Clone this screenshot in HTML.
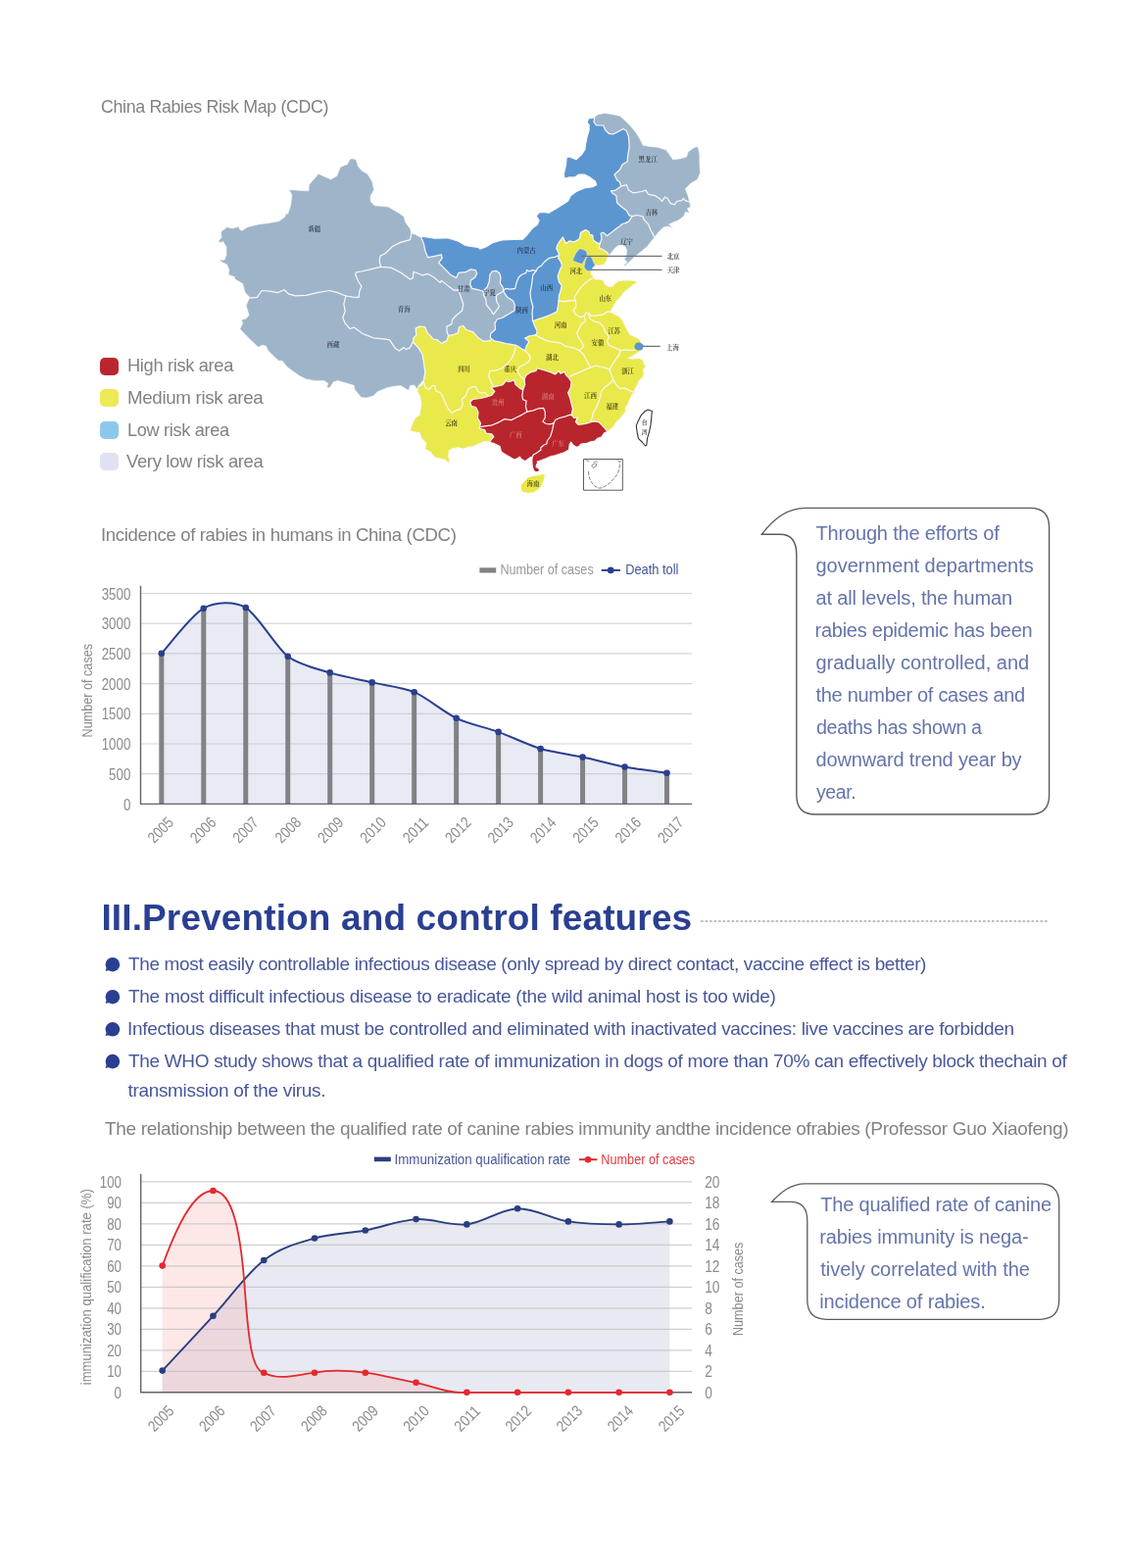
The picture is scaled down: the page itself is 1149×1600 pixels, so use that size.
<!DOCTYPE html>
<html lang="en">
<head>
<meta charset="utf-8">
<title>Rabies prevention and control features</title>
<style>
html,body{margin:0;padding:0;background:#fff}
body{width:1149px;height:1600px;position:relative;overflow:hidden;font-family:"Liberation Sans", "Noto Sans CJK SC", sans-serif;-webkit-font-smoothing:antialiased}
.abs{position:absolute;left:0;top:0;display:block}
.t{position:absolute;white-space:nowrap;margin:0;padding:0;line-height:1;font-weight:400;transform-origin:0 0}
h1.t,h2.t{font-weight:400}
ul,li,p{margin:0;padding:0;list-style:none}
.sw{position:absolute;left:102px;width:18.6px;height:18px;border-radius:5px}
</style>
</head>
<body>
<section>
<h2 class="t" style="left:102.8px;top:99.12px;font-size:19px;color:#828284;letter-spacing:-0.35px;transform:scaleX(0.9356)">China Rabies Risk Map (CDC)</h2>
<svg class="abs" width="520" height="410" viewBox="210 105 520 410" style="left:210px;top:105px" font-family="Liberation Serif, Noto Serif CJK SC, serif" font-weight="600" font-size="6.4" text-anchor="middle" stroke-linejoin="round" stroke-linecap="round">
<path d="M357.1,162.5 359.5,161.8 363.3,162.9 365.4,169.7 369.6,174.6 375,177.4 380.2,186.2 381.5,194 378.1,200 378.1,205.6 382.3,209.7 396.2,211.1 406,216.7 412.2,220.9 413.6,226.5 418.5,233.4 419.9,238.3 423.4,239 428.2,241.8 430.3,241.1 445,250 470,262 495,262 520,290 530,315 520,345 500,352 470,350 445,355 440,380 432,392 425.5,397 422.7,392.9 418.5,393.6 417.1,398.4 408.7,393.6 401.8,394.3 394.8,395.7 385.1,399.8 380.9,404 373.9,406.1 368.4,405.4 365.6,401.9 362.1,397.7 361.2,393.3 354.3,391.2 344.5,388.4 340.3,389.8 336.2,396 333.4,395.3 334.8,391.2 330.6,388.4 320.8,388.4 312.5,387 305.5,383.5 298.6,378.6 293,374.5 288.1,368.2 284.6,368.2 280.5,364.7 273.5,357.7 271.4,352.9 267.2,352.2 263.7,354.3 256.8,348 249.8,341 244.9,335.5 247.7,329.9 246.3,326.4 251.2,325 254,321.5 251.2,311.8 254.7,303.4 249.8,297.9 247.7,289.5 239.4,284.6 239.4,282.5 233.1,280.4 233.8,275.6 231.7,270 225.4,267 224.1,265.2 228.9,265.2 231,260.3 231,251.9 227.5,246.4 224.1,247.7 223.1,245.7 226.1,242.2 225.4,236.6 231.7,231.7 237.3,233.1 240.8,232.1 243.6,231.3 244.9,234.5 247,235.2 252.6,231.7 263.7,228.9 274.9,227.5 284.6,225.7 290.9,221.3 291.6,217.8 293.7,218.5 296.5,210.1 297.9,199 295.1,193.4 306.9,194.5 315,194.8 315.3,188.6 325,177.4 337.6,183 343.8,179.5 347.3,170.4 354.3,167.7Z" fill="#9eb5c9" stroke="#fff" stroke-width=".5"/>
<path d="M606.7,119.6 610.1,116.8 617.1,115.4 625.5,116.8 632.4,118.2 638,123.1 643.6,128.7 649.1,135.6 653.3,142.6 656.1,148.2 663.1,149.6 671.4,150.3 679.8,153.1 683.3,157.9 686.7,162.8 693.7,162.1 700.7,160 702.1,155.1 707.6,151 711.8,149.3 713.2,153.7 713.9,157.9 713.9,167.7 714.6,176 711.8,183 704.8,187.2 699.3,192.7 702.1,199.7 703.5,205.3 704.8,210.8 701.4,212.9 703.5,217.1 699.3,216.4 697.9,220.6 692.3,224.8 685.3,227.5 682.6,229 687,232.4 681.2,231 677,232 672.8,236 667.2,242.9 663.6,247.5 660,252 655.7,255.5 651.4,258.9 647,262.4 643.6,265.9 640.9,268.5 638.3,271.1 635.7,271.6 640.1,267.6 638.3,265.5 636.6,265.9 637.9,263.3 639.2,259.8 639.6,255.5 638.3,252 634.8,249.8 630.5,250.7 627,253.7 624.4,257.2 620.9,260.7 612,256 607,244 612,234 628,226 636,216 624,200 620,190 624,178 634,165 636,142 625,141 612,134 604,125Z" fill="#9eb5c9" stroke="#fff" stroke-width=".5"/>
<path d="M612.2,248.5 611.3,252.9 615.7,255 620.1,258.1 620.9,260.7 620.1,263.3 618.3,267.6 615.7,270.3 611.3,271.1 607.4,270.7 605.3,272.4 603.5,275.9 603.1,279 605.3,281.6 606.1,282.6 607.4,285 612.2,285 615.7,285.9 617,289.4 620.9,292.4 625.3,292 627,289.4 630.5,286.8 635.7,285.9 642.7,285.9 648.8,286.4 649.6,288.5 646.2,291.1 642.7,293.8 638.3,297.2 635.7,299.9 633.1,303.3 629.6,306.9 626.9,311.1 624.8,315.3 622.7,318.1 625.5,319.5 631,322.2 635.2,326.4 638,332 640.8,337.6 642.7,340.9 648.2,343.7 652.4,345.8 654.5,349.2 656.6,353.4 655.2,356.9 652.4,359 648.2,361.8 644.1,364.6 641.3,365.3 645.5,366 652.4,365.3 656.6,367.4 657.3,371.5 659.4,373.6 656.6,377.1 657.3,381.3 655.9,385.5 652.4,388.2 651,392.4 648.2,396.6 646.9,400.8 644.8,403.6 642.7,407.7 641.3,411.9 638.5,416.1 638.5,420.3 635.7,423.8 632.9,427.2 628.7,431.4 626,435.6 621.8,439.1 620.4,441.2 612,440 592,442 575,430 570,400 550,390 525,402 510,420 505,447 499.6,451.3 494.7,450.6 489.1,452.7 483.6,455.5 478,456.2 472.4,458.2 468.2,456.9 462.7,457.5 458.5,459.6 457.8,465.2 459.2,471.5 457.1,472.2 454.3,469.4 448.7,468 443.2,466.6 439,461 433.4,458.2 434.8,452.7 429.9,447.1 427.9,441.5 422.3,440.8 418.1,439.4 420.9,431.8 423.7,426.2 427.9,423.4 428.9,417.9 429.8,411.5 428.6,405 425.6,399 427,394.5 432.4,388 433.8,379.6 432.4,369.9 431,361.5 426.9,354.6 421.3,349 422,344.8 424.8,342 424.1,335.1 428.2,333 433.8,333.7 435.9,339.2 442.2,346.2 446.4,346.9 450.5,350.4 456.1,347.6 457.5,342.7 463.1,341.3 467.2,339.9 468.6,333.7 472.8,332.3 475.6,336.5 482.6,338.6 488.1,344.8 493.7,348.3 499.3,347.6 512,342 535,340 552,318 560,300 560,262 565,238 598,230 609,243Z" fill="#e9e94c" stroke="#fbf7fa" stroke-width="1.2"/>
<path d="M531.6,495.3 532,500.1 533.9,502 539.5,503 544.4,502.3 547.9,500.2 551.3,497.4 553.5,493.2 554.9,489 556,485.5 554.1,484 549.9,485.1 544.4,485.8 538.8,487.2 537.2,489 533.8,492.4Z" fill="#e9e94c"/>
<path d="M430.3,241.1 443.6,243.2 453.9,242.9 457.5,242.9 467.9,246.3 474.2,250.1 479,251.2 487.4,252.3 490.1,254 495.7,251.9 502.7,247.7 512.4,244.9 523.6,244.5 533.3,244.2 537.5,240.1 543.1,233.1 548.6,228.9 550,224.7 547.2,220.6 550,216.8 556,216.5 560,217.3 568.4,212.2 573.9,208.8 579.5,205.3 582.3,199.7 587.9,195.5 596.2,192 604.6,190.7 608.7,188.6 607.4,185.1 601.8,180.9 596.2,178.1 590.6,178.1 586.5,180.9 580.9,180.9 576,182.3 575.3,177.4 577.4,169.1 578.1,160.7 580.9,160 587.9,162.8 593.4,157.9 596.9,152.4 597.6,146.8 599,139.8 601.1,132.9 601.1,127.3 599,125.2 600.4,121 604.6,120.3 606.7,119.6 606,124.5 608.7,128 615.7,128 617.8,132.9 621.3,136.3 625.5,137 631,134.2 635.9,131.5 639.4,133.6 641.5,139.8 642.2,149.6 640.8,157.9 640.1,164.9 635.2,167.7 632.4,173.2 626.9,178.1 629.6,183.7 632.4,185.8 633.8,190 628.2,194.1 623.4,194.8 625.5,197.6 628.9,199.7 629.6,206.7 633.8,210.8 639.4,215 642.2,219.9 645,220.6 641.8,225.9 638.3,227.6 634.8,228.5 632.2,231.1 629.6,232.8 626.1,235.4 622.7,238.1 619.2,240.7 615.7,237.2 613.1,238.1 614,243.7 612.2,248.5 608.7,247.6 605.3,245 604.8,240.2 601.8,239.4 600.9,236.3 597.4,234.6 592.6,237.2 591.3,243.7 586.1,246.8 580.9,245.9 577.4,248.5 574.4,242 571.3,245.9 568.7,250.2 567.8,253.7 570.4,258.9 569.6,263.3 572.2,266.8 573.5,271.1 571.3,275.5 569.1,281.6 570.4,287.7 573.1,291.1 572.2,296.4 570.4,301.6 570.2,306.9 569.3,312.5 568.2,318.1 562.6,320.8 555.6,323.6 548.6,325.7 543.8,327.8 545.5,332.5 548.2,338.1 546.9,341.6 539.9,343 535.7,345.1 539.9,348.6 537.1,353.4 535.7,357.6 532.9,356.2 527.4,352.7 521.8,351.3 516.2,350.6 510.6,349.2 504.4,347.9 500.2,344.4 500.8,340.4 505.5,336 505,330 507.5,325.5 512.4,324.5 516.3,322 520.8,319.5 525,316.7 525.2,311.1 523.6,306.9 518,303.4 515.2,300 513.8,297 513.1,293 510.3,288.8 511,283.2 509.6,278.4 506.2,276.3 502,277 499.9,280.5 499.2,287.4 497.1,293 492.9,297.2 488.7,295.8 481.8,294.4 479.7,290.2 480.4,286 484.6,283.2 486.7,279.1 485.3,275.6 480.4,274.9 474.8,277.7 467.9,278.4 466.5,281.5 465.8,283.6 460.3,280.8 454.7,275.2 447.7,268.2 451.2,263.4 450.5,259.9 443.6,261.3 436.6,262.7 433.8,255.7 432.4,248.7 429.6,241.8Z" fill="#5b96d1" stroke="#fbf7fa" stroke-width="1.2"/>
<path d="M479.6,410.2 482.6,407.5 490.5,406.5 497.5,404.6 502,403.2 504.8,399.5 501,395.5 506,394.3 513,392.6 516.9,388.2 518.3,389.6 521.8,388.9 524.6,387.5 526,392.4 530.1,395.9 533.6,398 535.7,392.4 535,386.9 537.1,382.7 541.3,379.9 546.9,378.5 548.2,375.7 555.2,377.8 562.2,379.9 566.4,382 570.5,378.5 571.9,381.3 576.1,379.2 577.5,382.7 580.3,385.5 583.1,389.6 582.4,395.2 579.6,400.8 581.7,406.4 583.1,411.9 584.5,417.5 583,423.3 586,426.5 589.4,425.8 587.4,430.6 590.1,433.4 595.7,432.7 601.3,431.3 605.5,429.9 611,430.6 615.2,434.8 620.1,440.4 616.6,441.8 613.8,446 609.6,447.4 606.9,450.1 602.7,450.8 598.5,452.6 595.9,452.6 592.4,453.3 591,455.6 588.2,456.3 584.8,454.2 582.7,451.2 581.2,453.5 580.6,459.1 575.7,461.8 568.7,464.1 565.3,465.2 561.8,465.9 556.2,468.3 551.3,470 548.1,471 548.9,472.6 547.5,474 547.1,476.4 549.4,477.8 551,479.2 549.4,481.4 546.3,481.8 544.2,479.4 543.2,475.8 542.8,470.9 543.1,466.3 540.9,466.9 538.1,469 536,470.7 531.8,468.3 530.4,466.2 527,468.3 524.2,468.7 520,466.2 515.6,463.8 511.4,461 510,455.5 504.5,452.7 499.6,451.3 500.3,449.9 503.8,445.7 501.7,442.9 496.1,442.2 494.7,438.7 489.1,437.4 490.5,431.8 487.4,426.5 488,420.5 485.5,415.5 481,414.4Z" fill="#b8252d" stroke="#fbf7fa" stroke-width="1.2"/>
<g fill="none" stroke="#fbf7fa" stroke-width="1.2">
<path d="M254.7,304.1 262.4,303.4 267.2,296.5 274.9,297.2 283.2,298.6 290.2,295.8 294.4,299.9 301.4,301.8 312.5,301.3 323.6,298.6 336.2,296.5 344.5,298.6 352.9,302"/>
<path d="M352.9,302 359.8,303.1 366.1,303.4 366.8,297.2 368.9,292.3 365.4,286.7 362.6,280 363.5,277.8 368.2,277 376.7,275.2 388.6,272.4"/>
<path d="M388.6,272.4 387.2,266.9 387.9,261.3 393.4,258.5 400.4,251.5 408.7,247.4 418.5,244.6 419.9,238.3"/>
<path d="M352.9,302 350.8,310.4 352.2,317.4 349.8,324.3 352.2,329.9 357.1,335.5 361.2,334.1 365.4,336.9 369.6,340.3 375,342.4 380.9,344.8 392,345.9 397.6,346.9 403.2,355.3 407.4,358.1 412.2,354.6 414.3,356.7 418.5,354.6 421,349.5"/>
<path d="M388.6,272.4 399,273.1 408.7,278 418.5,285 421.3,283.6 422,277.3 431,280.8 436.6,279.4 443.6,283.6 449.1,288.4 450.5,286.4 457.5,291.9 463.1,296.1 467.9,295.9 470,302 472.8,310.5 471.5,317 466,321.5 461.7,326 460.9,330.6 455.8,333.2 456,338 457.5,342.5"/>
<path d="M492.9,297.2 493.6,301.4 495.7,305.5 496.4,311.1 499.9,315.3 503.4,320.8 505.5,318.1 509.6,312.5 506.9,308.3 506.2,302.7 507.5,300.7 513.8,297.2"/>
<path d="M569.6,260.7 566.1,262.4 562.6,262.9 559.8,263.7 555.6,267.2 552.8,270.7 548.6,273.5 547.2,276.3"/>
<path d="M547.2,276.3 543.8,280.5 543.1,286 542.4,291.6 541,298.6 541.7,305.5 543.8,312.5 543.1,319.5 543.5,327.5"/>
<path d="M547.2,276.3 543.1,275.6 540.3,277 537.5,275.6 536.8,278.4 531.9,280.5 529.1,283.2 527,288.8 525.7,294.4 520.8,295.1 515.9,294.4 513.8,296.5"/>
<path d="M633.8,190 639.4,188.6 641.5,194.1 646.4,196.9 654.7,195.5 658.9,194.1 661.7,198.3 668.6,199.7 672.8,202.5 675.6,205.3 678.4,201.1 681.2,202.5 684,207.4 688.1,208.8 690.9,205.3 695.8,204.6 697.2,202.5 699.3,204.6 703.5,206"/>
<path d="M645,220.6 650.5,219.5 656.1,221 657.5,224.7 661.7,228.9 663.8,234.5 666.5,239.4 667.9,242.2"/>
<path d="M606.1,283.3 600.9,285.9 596.6,289.4 592.2,293.8 588.7,299 586.3,303.3 586.5,305.5 587.2,306.9"/>
<path d="M587.2,306.9 580.9,306.9 575.3,307.6 569.7,306.9"/>
<path d="M587.2,306.9 587.9,312.5 585.1,316.7 587.2,320.8 592,323.6 596.2,322.2 598.3,318.8"/>
<path d="M598.3,318.8 600.4,319.5 603.2,322.2 608.7,322.2 615.7,320.8 619.9,318.1 622.7,318.1"/>
<path d="M596.2,322.9 597.6,327.8 593.4,330.6 590.6,336.2 588.6,340 590,343.7 592.8,347.9 595.6,353.4 591.4,357.6"/>
<path d="M600.4,319.5 601.8,325 606,327.8 611.5,329.2 615.7,333.4 617.5,338.5 621.5,343.7 619.6,347.9 621,352 627.4,354.8 632.9,357.6"/>
<path d="M546.9,342.3 552.4,345.1 558,347.9 565,349.2 571.9,349.9 577.5,353.4 584.5,354.8 591.4,357.6"/>
<path d="M591.4,357.6 595.6,361.8 598.4,367.4 601.2,372.9 602.6,375"/>
<path d="M602.6,375 597,377.1 591.4,379.9 585.8,382 581.7,384.1"/>
<path d="M602.6,375 608.1,373 613.7,374.5 619.3,375.7 622.1,377.5"/>
<path d="M622.1,377.5 624.7,372.2 628.2,366.7 631.6,362.5 632.9,357.6"/>
<path d="M632.9,357.6 638.5,356.9 644.1,357.6 648.2,356.9"/>
<path d="M622.1,377.5 623.5,381.5 626,387.5 622,391.5 617,395.2 613.5,399.4 612.5,405 610.7,410.5 608,416.8 605.2,421.5 604,427 602.7,430.5"/>
<path d="M626,388.2 628.7,392.4 632.9,396.6 637.1,395.9 641.3,398 646,400"/>
<path d="M526,354.8 524.6,360.4 521.8,366 517.6,371.5 512,375.7 506.5,377.8 499.5,378.5 498.8,384.1 500.9,389.6 503.7,393.8"/>
<path d="M535.7,357.6 538.5,360.4 541.3,364.6 539.9,368.7 535.7,371.5 530.1,374.3 528.1,378.5 530.1,382.7 533.6,386.2 535,388.2"/>
<path d="M429.6,393.6 432.4,389.4 433.8,395 438,397.7 440.8,393.6 443.6,393.6 445,399.1 449.1,400.5 451.9,404.7 454.7,411.7 457.5,417.2 461,421.4 465.8,418.6 470,417.2 472.1,413.1 471.4,407.5 475.6,403.3 477.7,397 481.2,395 485.3,394.3 487.4,399.1 490.9,401.2 495.1,400.5 497.5,403.5"/>
<path d="M533.6,398 532.9,403.6 533.6,407.7 537.1,409.1 536.4,414.7 537.8,420.2"/>
<path d="M537.8,420.2 532.9,423.1 527.4,425.8 521.8,428.6 514.8,427.6 507.9,431.4 500.9,434.2 493.9,434.9 489.5,436"/>
<path d="M537.8,420.2 544.1,418.9 549.6,416.8 554.6,416.3 556.3,420.5 556.3,426 553.9,430.3 557.4,432.5 561,432.8 565,431.8"/>
<path d="M565,431.8 567,428.3 571,426.5 576.5,425.2 580.3,423.6 583,423.3"/>
<path d="M565,431.8 563.7,438.7 561.6,445.5 558.3,450 558,452.8 554.8,454.2 551.7,457 552,459.1 550,460.4 547.2,462.5 544.4,463.9 543.3,466"/>
</g>
<path d="M591.8,253.7 594.8,254.6 598.3,256.3 599.2,259.4 597.9,262.4 596.1,265.9 593.9,269.4 589.6,268.1 584.4,265.9 586.1,261.6 587.9,258.1 590.5,255Z" fill="#5b96d1" stroke="#fbf7fa" stroke-width=".4"/>
<path d="M599.2,262 602.6,261.6 604.4,264.2 606.1,268.5 607.4,270.7 605.3,272.4 603.5,275.9 600.9,276.8 597.9,275.5 596.1,272.4 597,266.8 598.3,263.3Z" fill="#5b96d1" stroke="#fbf7fa" stroke-width=".4"/>
<path d="M648.9,349.9 652.4,349.2 655.9,351.3 656.6,353.4 655.2,356.9 651,357.6 648.2,356.2 647.3,353.4Z" fill="#5b96d1"/>
<path d="M661.2,418.1 665.3,419.5 664.7,426.5 664,433.4 662.6,440.4 660.5,447.4 659.8,454.3 658.4,455 655.6,451.5 651.4,447.4 650,440.4 649.3,434.1 651.4,429.2 654.2,423.7 658.4,419.5Z" fill="#fff" stroke="#333" stroke-width="1.1"/>
<path d="M593.1,261.4H675M603.5,275.4H675M655.9,353.4H673.3" fill="none" stroke="#6f7379" stroke-width="1.1"/>
<rect x="595.9" y="468.5" width="39.4" height="31.7" fill="#fff" stroke="#4a4a4a" stroke-width=".9"/>
<path d="M600.6,481.5C600.5,488 604,495 610,497.8C616,499.5 624,492 629.5,484.5C632,480 632.8,475 632.3,471.5" fill="none" stroke="#444" stroke-width=".7" stroke-dasharray="3 2.2"/>
<path d="M604,474.8l2.2,-1.8l2.6,.5l-.6,2.4l-2.6,1.2zM606,471.5l2,-.9l1.4,.8M630,469.5l1.6,1.2l1.8,-.6M598,469.6l3,1" fill="none" stroke="#444" stroke-width=".6"/>
<text x="320.8" y="235.5" fill="#333b47">新疆</text>
<text x="340" y="354.2" fill="#333b47">西藏</text>
<text x="412.2" y="318" fill="#333b47">青海</text>
<text x="473.1" y="296.8" fill="#333b47">甘肃</text>
<text x="499.4" y="301.1" fill="#333b47">宁夏</text>
<text x="537.1" y="258.1" fill="#25344d">内蒙古</text>
<text x="557.7" y="296.1" fill="#25344d">山西</text>
<text x="532.6" y="319.1" fill="#25344d">陕西</text>
<text x="661.2" y="164.9" fill="#333b47">黑龙江</text>
<text x="664.8" y="219" fill="#333b47">吉林</text>
<text x="639.6" y="248.8" fill="#333b47">辽宁</text>
<text x="587.8" y="279.4" fill="#3c3a12">河北</text>
<text x="617.8" y="306.5" fill="#3c3a12">山东</text>
<text x="572.1" y="334.1" fill="#3c3a12">河南</text>
<text x="626.6" y="339.8" fill="#3c3a12">江苏</text>
<text x="609.9" y="352.3" fill="#3c3a12">安徽</text>
<text x="563.4" y="367.4" fill="#3c3a12">湖北</text>
<text x="640.6" y="380.6" fill="#3c3a12">浙江</text>
<text x="602.4" y="406" fill="#3c3a12">江西</text>
<text x="624.8" y="416.6" fill="#3c3a12">福建</text>
<text x="473.6" y="379" fill="#3c3a12">四川</text>
<text x="520.7" y="379" fill="#3c3a12">重庆</text>
<text x="460.6" y="433.5" fill="#3c3a12">云南</text>
<text x="543.9" y="496.4" fill="#3c3a12">海南</text>
<text x="508.2" y="413.3" fill="#d27c80">贵州</text>
<text x="559.2" y="407" fill="#d27c80">湖南</text>
<text x="526.3" y="445.8" fill="#d27c80">广西</text>
<text x="569.6" y="454.6" fill="#d27c80">广东</text>
<text x="687.1" y="264" fill="#333">北京</text>
<text x="687.1" y="278.2" fill="#333">天津</text>
<text x="686.5" y="356.6" fill="#333">上海</text>
<text x="657.7" y="432.6" fill="#333" font-size="5.8">台</text><text x="657.7" y="443" fill="#333" font-size="5.8">湾</text>
</svg>
<ul>
<li><span class="sw" style="top:364.6px;background:#ba2630"></span><span class="t" style="left:129.74px;top:362.92px;font-size:19px;color:#828284;letter-spacing:-0.35px;transform:scaleX(0.9617)">High risk area</span></li>
<li><span class="sw" style="top:397.05px;background:#ecea56"></span><span class="t" style="left:129.71px;top:395.72px;font-size:19px;color:#828284;letter-spacing:-0.35px;transform:scaleX(0.9872)">Medium risk area</span></li>
<li><span class="sw" style="top:429.5px;background:#8cc8ee"></span><span class="t" style="left:129.74px;top:428.52px;font-size:19px;color:#828284;letter-spacing:-0.35px;transform:scaleX(0.9573)">Low risk area</span></li>
<li><span class="sw" style="top:461.95px;background:#dfe2f2"></span><span class="t" style="left:128.9px;top:461.32px;font-size:19px;color:#828284;letter-spacing:-0.35px;transform:scaleX(0.9708)">Very low risk area</span></li>
</ul>
</section>
<section>
<h2 class="t" style="left:102.72px;top:535.52px;font-size:19px;color:#828284;letter-spacing:-0.35px;transform:scaleX(0.9767)">Incidence of rabies in humans in China (CDC)</h2>
<svg class="abs" width="1149" height="320" viewBox="0 560 1149 320" style="top:560px" font-family='Liberation Sans, Noto Sans CJK SC, sans-serif'>
<path d="M164.8,666.8C170.82,660.35 195.74,627.24 207.78,620.7C219.81,614.16 238.72,613.23 250.75,620.1C262.78,626.97 281.69,660.52 293.73,669.8C305.76,679.08 324.67,682.68 336.7,686.4C348.73,690.12 367.64,693.63 379.68,696.4C391.71,699.17 410.62,701.1 422.65,706.2C434.68,711.3 453.59,727.1 465.62,732.8C477.66,738.5 496.57,742.53 508.6,746.9C520.63,751.27 539.54,760.4 551.58,764C563.61,767.6 582.52,770 594.55,772.6C606.58,775.2 625.49,780.33 637.53,782.6C649.56,784.87 674.48,787.93 680.5,788.8L680.5,820.4L164.8,820.4Z" fill="#e8eaf4"/>
<line x1="143.5" y1="605.5" x2="706" y2="605.5" stroke="#c6c7cc" stroke-opacity=".75" stroke-width="1.2"/>
<line x1="143.5" y1="636.2" x2="706" y2="636.2" stroke="#c6c7cc" stroke-opacity=".75" stroke-width="1.2"/>
<line x1="143.5" y1="666.9" x2="706" y2="666.9" stroke="#c6c7cc" stroke-opacity=".75" stroke-width="1.2"/>
<line x1="143.5" y1="697.6" x2="706" y2="697.6" stroke="#c6c7cc" stroke-opacity=".75" stroke-width="1.2"/>
<line x1="143.5" y1="728.3" x2="706" y2="728.3" stroke="#c6c7cc" stroke-opacity=".75" stroke-width="1.2"/>
<line x1="143.5" y1="759" x2="706" y2="759" stroke="#c6c7cc" stroke-opacity=".75" stroke-width="1.2"/>
<line x1="143.5" y1="789.7" x2="706" y2="789.7" stroke="#c6c7cc" stroke-opacity=".75" stroke-width="1.2"/>
<rect x="162.3" y="666.8" width="5" height="153.6" fill="#808285"/>
<rect x="205.28" y="620.7" width="5" height="199.7" fill="#808285"/>
<rect x="248.25" y="620.1" width="5" height="200.3" fill="#808285"/>
<rect x="291.23" y="669.8" width="5" height="150.6" fill="#808285"/>
<rect x="334.2" y="686.4" width="5" height="134" fill="#808285"/>
<rect x="377.18" y="696.4" width="5" height="124" fill="#808285"/>
<rect x="420.15" y="706.2" width="5" height="114.2" fill="#808285"/>
<rect x="463.12" y="732.8" width="5" height="87.6" fill="#808285"/>
<rect x="506.1" y="746.9" width="5" height="73.5" fill="#808285"/>
<rect x="549.08" y="764" width="5" height="56.4" fill="#808285"/>
<rect x="592.05" y="772.6" width="5" height="47.8" fill="#808285"/>
<rect x="635.03" y="782.6" width="5" height="37.8" fill="#808285"/>
<rect x="678" y="788.8" width="5" height="31.6" fill="#808285"/>
<path d="M164.8,666.8C170.82,660.35 195.74,627.24 207.78,620.7C219.81,614.16 238.72,613.23 250.75,620.1C262.78,626.97 281.69,660.52 293.73,669.8C305.76,679.08 324.67,682.68 336.7,686.4C348.73,690.12 367.64,693.63 379.68,696.4C391.71,699.17 410.62,701.1 422.65,706.2C434.68,711.3 453.59,727.1 465.62,732.8C477.66,738.5 496.57,742.53 508.6,746.9C520.63,751.27 539.54,760.4 551.58,764C563.61,767.6 582.52,770 594.55,772.6C606.58,775.2 625.49,780.33 637.53,782.6C649.56,784.87 674.48,787.93 680.5,788.8" fill="none" stroke="#2a3f8f" stroke-width="2"/>
<circle cx="164.8" cy="666.8" r="3.3" fill="#2a3f8f"/>
<circle cx="207.78" cy="620.7" r="3.3" fill="#2a3f8f"/>
<circle cx="250.75" cy="620.1" r="3.3" fill="#2a3f8f"/>
<circle cx="293.73" cy="669.8" r="3.3" fill="#2a3f8f"/>
<circle cx="336.7" cy="686.4" r="3.3" fill="#2a3f8f"/>
<circle cx="379.68" cy="696.4" r="3.3" fill="#2a3f8f"/>
<circle cx="422.65" cy="706.2" r="3.3" fill="#2a3f8f"/>
<circle cx="465.62" cy="732.8" r="3.3" fill="#2a3f8f"/>
<circle cx="508.6" cy="746.9" r="3.3" fill="#2a3f8f"/>
<circle cx="551.58" cy="764" r="3.3" fill="#2a3f8f"/>
<circle cx="594.55" cy="772.6" r="3.3" fill="#2a3f8f"/>
<circle cx="637.53" cy="782.6" r="3.3" fill="#2a3f8f"/>
<circle cx="680.5" cy="788.8" r="3.3" fill="#2a3f8f"/>
<path d="M143.5,597.8V820.4H706" fill="none" stroke="#626366" stroke-width="1.4"/>
<text x="133.3" y="611.6" text-anchor="end" font-size="16" fill="#8a8b8d" textLength="29.6" lengthAdjust="spacingAndGlyphs">3500</text>
<text x="133.3" y="642.3" text-anchor="end" font-size="16" fill="#8a8b8d" textLength="29.6" lengthAdjust="spacingAndGlyphs">3000</text>
<text x="133.3" y="673" text-anchor="end" font-size="16" fill="#8a8b8d" textLength="29.6" lengthAdjust="spacingAndGlyphs">2500</text>
<text x="133.3" y="703.7" text-anchor="end" font-size="16" fill="#8a8b8d" textLength="29.6" lengthAdjust="spacingAndGlyphs">2000</text>
<text x="133.3" y="734.4" text-anchor="end" font-size="16" fill="#8a8b8d" textLength="29.6" lengthAdjust="spacingAndGlyphs">1500</text>
<text x="133.3" y="765.1" text-anchor="end" font-size="16" fill="#8a8b8d" textLength="29.6" lengthAdjust="spacingAndGlyphs">1000</text>
<text x="133.3" y="795.8" text-anchor="end" font-size="16" fill="#8a8b8d" textLength="22.2" lengthAdjust="spacingAndGlyphs">500</text>
<text x="133.3" y="826.5" text-anchor="end" font-size="16" fill="#8a8b8d" textLength="7.4" lengthAdjust="spacingAndGlyphs">0</text>
<text transform="translate(163.6,846.7) rotate(-45)" y="5.7" text-anchor="middle" font-size="16" fill="#8a8b8d" textLength="29.6" lengthAdjust="spacingAndGlyphs">2005</text>
<text transform="translate(206.97,846.7) rotate(-45)" y="5.7" text-anchor="middle" font-size="16" fill="#8a8b8d" textLength="29.6" lengthAdjust="spacingAndGlyphs">2006</text>
<text transform="translate(250.35,846.7) rotate(-45)" y="5.7" text-anchor="middle" font-size="16" fill="#8a8b8d" textLength="29.6" lengthAdjust="spacingAndGlyphs">2007</text>
<text transform="translate(293.73,846.7) rotate(-45)" y="5.7" text-anchor="middle" font-size="16" fill="#8a8b8d" textLength="29.6" lengthAdjust="spacingAndGlyphs">2008</text>
<text transform="translate(337.1,846.7) rotate(-45)" y="5.7" text-anchor="middle" font-size="16" fill="#8a8b8d" textLength="29.6" lengthAdjust="spacingAndGlyphs">2009</text>
<text transform="translate(380.48,846.7) rotate(-45)" y="5.7" text-anchor="middle" font-size="16" fill="#8a8b8d" textLength="29.6" lengthAdjust="spacingAndGlyphs">2010</text>
<text transform="translate(423.85,846.7) rotate(-45)" y="5.7" text-anchor="middle" font-size="16" fill="#8a8b8d" textLength="29.6" lengthAdjust="spacingAndGlyphs">2011</text>
<text transform="translate(467.23,846.7) rotate(-45)" y="5.7" text-anchor="middle" font-size="16" fill="#8a8b8d" textLength="29.6" lengthAdjust="spacingAndGlyphs">2012</text>
<text transform="translate(510.6,846.7) rotate(-45)" y="5.7" text-anchor="middle" font-size="16" fill="#8a8b8d" textLength="29.6" lengthAdjust="spacingAndGlyphs">2013</text>
<text transform="translate(553.98,846.7) rotate(-45)" y="5.7" text-anchor="middle" font-size="16" fill="#8a8b8d" textLength="29.6" lengthAdjust="spacingAndGlyphs">2014</text>
<text transform="translate(597.35,846.7) rotate(-45)" y="5.7" text-anchor="middle" font-size="16" fill="#8a8b8d" textLength="29.6" lengthAdjust="spacingAndGlyphs">2015</text>
<text transform="translate(640.73,846.7) rotate(-45)" y="5.7" text-anchor="middle" font-size="16" fill="#8a8b8d" textLength="29.6" lengthAdjust="spacingAndGlyphs">2016</text>
<text transform="translate(684.1,846.7) rotate(-45)" y="5.7" text-anchor="middle" font-size="16" fill="#8a8b8d" textLength="29.6" lengthAdjust="spacingAndGlyphs">2017</text>
<text transform="translate(93.5,704.7) rotate(-90)" text-anchor="middle" font-size="14.5" fill="#8a8b8d" textLength="95.5" lengthAdjust="spacingAndGlyphs">Number of cases</text>
<rect x="489.4" y="579.3" width="16.8" height="5.2" fill="#808285"/>
<text x="510.4" y="586.3" font-size="14.5" fill="#98999b" textLength="95.3" lengthAdjust="spacingAndGlyphs">Number of cases</text>
<path d="M613.7,581.9H632.9" stroke="#2a3f8f" stroke-width="2"/><circle cx="623.2" cy="581.9" r="3.3" fill="#2a3f8f"/>
<text x="638.2" y="586.3" font-size="14.5" fill="#46559a" textLength="54.2" lengthAdjust="spacingAndGlyphs">Death toll</text>
</svg>
<svg class="abs" width="320" height="330" viewBox="770 510 320 330" style="left:770px;top:510px">
<path d="M822,518.4H1051Q1070.6,518.4 1070.6,538V811.5Q1070.6,831 1051,831H832Q812.8,831 812.8,811.5V566C812.8,551 806,545.2 796,545.2H777.4C788,531 803,518.4 822,518.4Z" fill="#fff" stroke="#5a5b5d" stroke-width="1.4"/>
</svg>
<svg class="abs" width="320" height="160" viewBox="780 1195 320 160" style="left:780px;top:1195px">
<path d="M822,1207.8H1061Q1080.7,1207.8 1080.7,1227.5V1326.6Q1080.7,1346.3 1061,1346.3H843.5Q823.8,1346.3 823.8,1326.6V1246C823.8,1232 817,1226.4 807,1226.4H787.4C795,1219 805,1207.8 822,1207.8Z" fill="#fff" stroke="#5a5b5d" stroke-width="1.3"/>
</svg>
<p>
<span class="t" style="left:832.5px;top:533.67px;font-size:20px;color:#6574ab;letter-spacing:-0.172px">Through the efforts of</span>
<span class="t" style="left:832.5px;top:566.67px;font-size:20px;color:#6574ab;letter-spacing:-0.007px">government departments</span>
<span class="t" style="left:832.5px;top:599.67px;font-size:20px;color:#6574ab;letter-spacing:-0.176px">at all levels, the human</span>
<span class="t" style="left:831.5px;top:632.67px;font-size:20px;color:#6574ab;letter-spacing:-0.248px">rabies epidemic has been</span>
<span class="t" style="left:832.5px;top:665.67px;font-size:20px;color:#6574ab;letter-spacing:-0.012px">gradually controlled, and</span>
<span class="t" style="left:832.5px;top:698.67px;font-size:20px;color:#6574ab;letter-spacing:-0.292px">the number of cases and</span>
<span class="t" style="left:832.5px;top:731.67px;font-size:20px;color:#6574ab;letter-spacing:-0.368px;transform:scaleX(0.9848)">deaths has shown a</span>
<span class="t" style="left:832.5px;top:764.67px;font-size:20px;color:#6574ab;letter-spacing:-0.159px">downward trend year by</span>
<span class="t" style="left:832.5px;top:797.67px;font-size:20px;color:#6574ab;letter-spacing:-0.368px;transform:scaleX(0.972)">year.</span>
</p>
</section>
<section>
<h1 class="t" style="left:103.4px;top:917.58px;font-size:37px;color:#2a3f92;letter-spacing:0.132px;font-weight:700">III.Prevention and control features</h1>
<svg class="abs" width="360" height="4" viewBox="712 938 360 4" style="left:712px;top:938px"><line x1="715" y1="940" x2="1069" y2="940" stroke="#7f8083" stroke-width="1" stroke-dasharray="2.7 1.8"/></svg>
<svg class="abs" width="30" height="130" viewBox="100 970 30 130" style="left:100px;top:970px" fill="#2a3f92">
<circle cx="114.9" cy="984.2" r="7.3"/><path d="M108.6,987.4 l-.9,3.6 l4,-.9z"/>
<circle cx="114.9" cy="1017.2" r="7.3"/><path d="M108.6,1020.4 l-.9,3.6 l4,-.9z"/>
<circle cx="114.9" cy="1050.3" r="7.3"/><path d="M108.6,1053.5 l-.9,3.6 l4,-.9z"/>
<circle cx="114.9" cy="1083.1" r="7.3"/><path d="M108.6,1086.3 l-.9,3.6 l4,-.9z"/>
</svg>
<ul>
<li><span class="t" style="left:131px;top:974.22px;font-size:19px;color:#48579b;letter-spacing:-0.35px">The most easily controllable infectious disease (only spread by direct contact, vaccine effect is better)</span></li>
<li><span class="t" style="left:131px;top:1007.22px;font-size:19px;color:#48579b;letter-spacing:-0.276px">The most difficult infectious disease to eradicate (the wild animal host is too wide)</span></li>
<li><span class="t" style="left:130px;top:1040.42px;font-size:19px;color:#48579b;letter-spacing:-0.293px">Infectious diseases that must be controlled and eliminated with inactivated vaccines: live vaccines are forbidden</span></li>
<li><span class="t" style="left:131px;top:1073.42px;font-size:19px;color:#48579b;letter-spacing:-0.319px">The WHO study shows that a qualified rate of immunization in dogs of more than 70% can effectively block thechain of</span><span class="t" style="left:130.5px;top:1102.72px;font-size:19px;color:#48579b;letter-spacing:-0.326px">transmission of the virus.</span></li>
</ul>
<p class="t" style="left:107px;top:1141.52px;font-size:19px;color:#828284;letter-spacing:-0.318px">The relationship between the qualified rate of canine rabies immunity andthe incidence ofrabies (Professor Guo Xiaofeng)</p>
<svg class="abs" width="1149" height="320" viewBox="0 1170 1149 320" style="top:1170px" font-family='Liberation Sans, Noto Sans CJK SC, sans-serif'>
<path d="M165.7,1398.6C174.33,1389.3 200.21,1361.57 217.47,1342.8C234.73,1324.03 251.98,1299.22 269.24,1286C286.5,1272.78 303.75,1268.58 321.01,1263.5C338.27,1258.42 355.52,1258.73 372.78,1255.5C390.04,1252.27 407.29,1245.12 424.55,1244.1C441.81,1243.08 459.06,1251.22 476.32,1249.4C493.58,1247.58 510.83,1233.7 528.09,1233.2C545.35,1232.7 562.6,1243.7 579.86,1246.4C597.12,1249.1 614.37,1249.4 631.63,1249.4C648.89,1249.4 674.77,1246.9 683.4,1246.4L683.4,1420.8L165.7,1420.8Z" fill="#e8e9f1"/>
<path d="M165.7,1291.6C178,1258 196,1215 217.47,1215C238,1215 246,1260 250,1318C254,1374 258,1398 269.24,1400.7C285,1409 302,1403 321.01,1400.7C338,1397.5 356,1398.5 372.78,1400.7C390,1403 408,1408 424.55,1410.8C440,1414 455,1420.8 468.32,1420.8L683.4,1420.8L165.7,1420.8Z" fill="#f6a5a8" fill-opacity=".27"/>
<line x1="143.7" y1="1205.9" x2="706" y2="1205.9" stroke="#bfc0c5" stroke-opacity=".75" stroke-width="1.2"/>
<line x1="143.7" y1="1227.39" x2="706" y2="1227.39" stroke="#bfc0c5" stroke-opacity=".75" stroke-width="1.2"/>
<line x1="143.7" y1="1248.88" x2="706" y2="1248.88" stroke="#bfc0c5" stroke-opacity=".75" stroke-width="1.2"/>
<line x1="143.7" y1="1270.37" x2="706" y2="1270.37" stroke="#bfc0c5" stroke-opacity=".75" stroke-width="1.2"/>
<line x1="143.7" y1="1291.86" x2="706" y2="1291.86" stroke="#bfc0c5" stroke-opacity=".75" stroke-width="1.2"/>
<line x1="143.7" y1="1313.35" x2="706" y2="1313.35" stroke="#bfc0c5" stroke-opacity=".75" stroke-width="1.2"/>
<line x1="143.7" y1="1334.84" x2="706" y2="1334.84" stroke="#bfc0c5" stroke-opacity=".75" stroke-width="1.2"/>
<line x1="143.7" y1="1356.33" x2="706" y2="1356.33" stroke="#bfc0c5" stroke-opacity=".75" stroke-width="1.2"/>
<line x1="143.7" y1="1377.82" x2="706" y2="1377.82" stroke="#bfc0c5" stroke-opacity=".75" stroke-width="1.2"/>
<line x1="143.7" y1="1399.31" x2="706" y2="1399.31" stroke="#bfc0c5" stroke-opacity=".75" stroke-width="1.2"/>
<path d="M143.7,1198V1420.8H706" fill="none" stroke="#626366" stroke-width="1.4"/>
<path d="M165.7,1398.6C174.33,1389.3 200.21,1361.57 217.47,1342.8C234.73,1324.03 251.98,1299.22 269.24,1286C286.5,1272.78 303.75,1268.58 321.01,1263.5C338.27,1258.42 355.52,1258.73 372.78,1255.5C390.04,1252.27 407.29,1245.12 424.55,1244.1C441.81,1243.08 459.06,1251.22 476.32,1249.4C493.58,1247.58 510.83,1233.7 528.09,1233.2C545.35,1232.7 562.6,1243.7 579.86,1246.4C597.12,1249.1 614.37,1249.4 631.63,1249.4C648.89,1249.4 674.77,1246.9 683.4,1246.4" fill="none" stroke="#2a3f7f" stroke-width="1.9"/>
<circle cx="165.7" cy="1398.6" r="3.3" fill="#2a3f7f"/>
<circle cx="217.47" cy="1342.8" r="3.3" fill="#2a3f7f"/>
<circle cx="269.24" cy="1286" r="3.3" fill="#2a3f7f"/>
<circle cx="321.01" cy="1263.5" r="3.3" fill="#2a3f7f"/>
<circle cx="372.78" cy="1255.5" r="3.3" fill="#2a3f7f"/>
<circle cx="424.55" cy="1244.1" r="3.3" fill="#2a3f7f"/>
<circle cx="476.32" cy="1249.4" r="3.3" fill="#2a3f7f"/>
<circle cx="528.09" cy="1233.2" r="3.3" fill="#2a3f7f"/>
<circle cx="579.86" cy="1246.4" r="3.3" fill="#2a3f7f"/>
<circle cx="631.63" cy="1249.4" r="3.3" fill="#2a3f7f"/>
<circle cx="683.4" cy="1246.4" r="3.3" fill="#2a3f7f"/>
<path d="M165.7,1291.6C178,1258 196,1215 217.47,1215C238,1215 246,1260 250,1318C254,1374 258,1398 269.24,1400.7C285,1409 302,1403 321.01,1400.7C338,1397.5 356,1398.5 372.78,1400.7C390,1403 408,1408 424.55,1410.8C440,1414 455,1420.8 468.32,1420.8L683.4,1420.8" fill="none" stroke="#e5282d" stroke-width="1.8"/>
<circle cx="165.7" cy="1291.6" r="3.3" fill="#e5282d"/>
<circle cx="217.47" cy="1215" r="3.3" fill="#e5282d"/>
<circle cx="269.24" cy="1400.7" r="3.3" fill="#e5282d"/>
<circle cx="321.01" cy="1400.7" r="3.3" fill="#e5282d"/>
<circle cx="372.78" cy="1400.7" r="3.3" fill="#e5282d"/>
<circle cx="424.55" cy="1410.8" r="3.3" fill="#e5282d"/>
<circle cx="476.32" cy="1420.8" r="3.3" fill="#e5282d"/>
<circle cx="528.09" cy="1420.8" r="3.3" fill="#e5282d"/>
<circle cx="579.86" cy="1420.8" r="3.3" fill="#e5282d"/>
<circle cx="631.63" cy="1420.8" r="3.3" fill="#e5282d"/>
<circle cx="683.4" cy="1420.8" r="3.3" fill="#e5282d"/>
<text x="124" y="1212" text-anchor="end" font-size="16" fill="#8a8b8d" textLength="22.2" lengthAdjust="spacingAndGlyphs">100</text>
<text x="719.2" y="1212" font-size="16" fill="#8a8b8d" textLength="15.2" lengthAdjust="spacingAndGlyphs">20</text>
<text x="124" y="1233.49" text-anchor="end" font-size="16" fill="#8a8b8d" textLength="14.8" lengthAdjust="spacingAndGlyphs">90</text>
<text x="719.2" y="1233.49" font-size="16" fill="#8a8b8d" textLength="15.2" lengthAdjust="spacingAndGlyphs">18</text>
<text x="124" y="1254.98" text-anchor="end" font-size="16" fill="#8a8b8d" textLength="14.8" lengthAdjust="spacingAndGlyphs">80</text>
<text x="719.2" y="1254.98" font-size="16" fill="#8a8b8d" textLength="15.2" lengthAdjust="spacingAndGlyphs">16</text>
<text x="124" y="1276.47" text-anchor="end" font-size="16" fill="#8a8b8d" textLength="14.8" lengthAdjust="spacingAndGlyphs">70</text>
<text x="719.2" y="1276.47" font-size="16" fill="#8a8b8d" textLength="15.2" lengthAdjust="spacingAndGlyphs">14</text>
<text x="124" y="1297.96" text-anchor="end" font-size="16" fill="#8a8b8d" textLength="14.8" lengthAdjust="spacingAndGlyphs">60</text>
<text x="719.2" y="1297.96" font-size="16" fill="#8a8b8d" textLength="15.2" lengthAdjust="spacingAndGlyphs">12</text>
<text x="124" y="1319.45" text-anchor="end" font-size="16" fill="#8a8b8d" textLength="14.8" lengthAdjust="spacingAndGlyphs">50</text>
<text x="719.2" y="1319.45" font-size="16" fill="#8a8b8d" textLength="15.2" lengthAdjust="spacingAndGlyphs">10</text>
<text x="124" y="1340.94" text-anchor="end" font-size="16" fill="#8a8b8d" textLength="14.8" lengthAdjust="spacingAndGlyphs">40</text>
<text x="719.2" y="1340.94" font-size="16" fill="#8a8b8d" textLength="7.6" lengthAdjust="spacingAndGlyphs">8</text>
<text x="124" y="1362.43" text-anchor="end" font-size="16" fill="#8a8b8d" textLength="14.8" lengthAdjust="spacingAndGlyphs">30</text>
<text x="719.2" y="1362.43" font-size="16" fill="#8a8b8d" textLength="7.6" lengthAdjust="spacingAndGlyphs">6</text>
<text x="124" y="1383.92" text-anchor="end" font-size="16" fill="#8a8b8d" textLength="14.8" lengthAdjust="spacingAndGlyphs">20</text>
<text x="719.2" y="1383.92" font-size="16" fill="#8a8b8d" textLength="7.6" lengthAdjust="spacingAndGlyphs">4</text>
<text x="124" y="1405.41" text-anchor="end" font-size="16" fill="#8a8b8d" textLength="14.8" lengthAdjust="spacingAndGlyphs">10</text>
<text x="719.2" y="1405.41" font-size="16" fill="#8a8b8d" textLength="7.6" lengthAdjust="spacingAndGlyphs">2</text>
<text x="124" y="1426.9" text-anchor="end" font-size="16" fill="#8a8b8d" textLength="7.4" lengthAdjust="spacingAndGlyphs">0</text>
<text x="719.2" y="1426.9" font-size="16" fill="#8a8b8d" textLength="7.6" lengthAdjust="spacingAndGlyphs">0</text>
<text transform="translate(164,1447.2) rotate(-45)" y="5.7" text-anchor="middle" font-size="16" fill="#8a8b8d" textLength="29.6" lengthAdjust="spacingAndGlyphs">2005</text>
<text transform="translate(216.09,1447.2) rotate(-45)" y="5.7" text-anchor="middle" font-size="16" fill="#8a8b8d" textLength="29.6" lengthAdjust="spacingAndGlyphs">2006</text>
<text transform="translate(268.18,1447.2) rotate(-45)" y="5.7" text-anchor="middle" font-size="16" fill="#8a8b8d" textLength="29.6" lengthAdjust="spacingAndGlyphs">2007</text>
<text transform="translate(320.27,1447.2) rotate(-45)" y="5.7" text-anchor="middle" font-size="16" fill="#8a8b8d" textLength="29.6" lengthAdjust="spacingAndGlyphs">2008</text>
<text transform="translate(372.36,1447.2) rotate(-45)" y="5.7" text-anchor="middle" font-size="16" fill="#8a8b8d" textLength="29.6" lengthAdjust="spacingAndGlyphs">2009</text>
<text transform="translate(424.45,1447.2) rotate(-45)" y="5.7" text-anchor="middle" font-size="16" fill="#8a8b8d" textLength="29.6" lengthAdjust="spacingAndGlyphs">2010</text>
<text transform="translate(476.54,1447.2) rotate(-45)" y="5.7" text-anchor="middle" font-size="16" fill="#8a8b8d" textLength="29.6" lengthAdjust="spacingAndGlyphs">2011</text>
<text transform="translate(528.63,1447.2) rotate(-45)" y="5.7" text-anchor="middle" font-size="16" fill="#8a8b8d" textLength="29.6" lengthAdjust="spacingAndGlyphs">2012</text>
<text transform="translate(580.72,1447.2) rotate(-45)" y="5.7" text-anchor="middle" font-size="16" fill="#8a8b8d" textLength="29.6" lengthAdjust="spacingAndGlyphs">2013</text>
<text transform="translate(632.81,1447.2) rotate(-45)" y="5.7" text-anchor="middle" font-size="16" fill="#8a8b8d" textLength="29.6" lengthAdjust="spacingAndGlyphs">2014</text>
<text transform="translate(684.9,1447.2) rotate(-45)" y="5.7" text-anchor="middle" font-size="16" fill="#8a8b8d" textLength="29.6" lengthAdjust="spacingAndGlyphs">2015</text>
<text transform="translate(93,1313.2) rotate(-90)" text-anchor="middle" font-size="14.5" fill="#8a8b8d" textLength="200" lengthAdjust="spacingAndGlyphs">immunization qualification rate (%)</text>
<text transform="translate(757.5,1315.3) rotate(-90)" text-anchor="middle" font-size="14.5" fill="#8a8b8d" textLength="95.5" lengthAdjust="spacingAndGlyphs">Number of cases</text>
<rect x="381.8" y="1180.6" width="17" height="4.6" fill="#2a3f7f"/>
<text x="402.6" y="1188" font-size="14.5" fill="#46559a" textLength="179.6" lengthAdjust="spacingAndGlyphs">Immunization qualification rate</text>
<path d="M590.8,1183.2H609.3" stroke="#e5282d" stroke-width="2"/><circle cx="600" cy="1183.2" r="3.3" fill="#e5282d"/>
<text x="613.3" y="1188" font-size="14.5" fill="#e5393d" textLength="95.9" lengthAdjust="spacingAndGlyphs">Number of cases</text>
</svg>
<p>
<span class="t" style="left:837.3px;top:1218.97px;font-size:20px;color:#6574ab;letter-spacing:-0.205px">The qualified rate of canine</span>
<span class="t" style="left:836.3px;top:1252.07px;font-size:20px;color:#6574ab;letter-spacing:-0.147px">rabies immunity is nega-</span>
<span class="t" style="left:837.3px;top:1284.87px;font-size:20px;color:#6574ab;letter-spacing:-0.037px">tively correlated with the</span>
<span class="t" style="left:836.3px;top:1317.97px;font-size:20px;color:#6574ab;letter-spacing:-0.151px">incidence of rabies.</span>
</p>
</section>
</body>
</html>
